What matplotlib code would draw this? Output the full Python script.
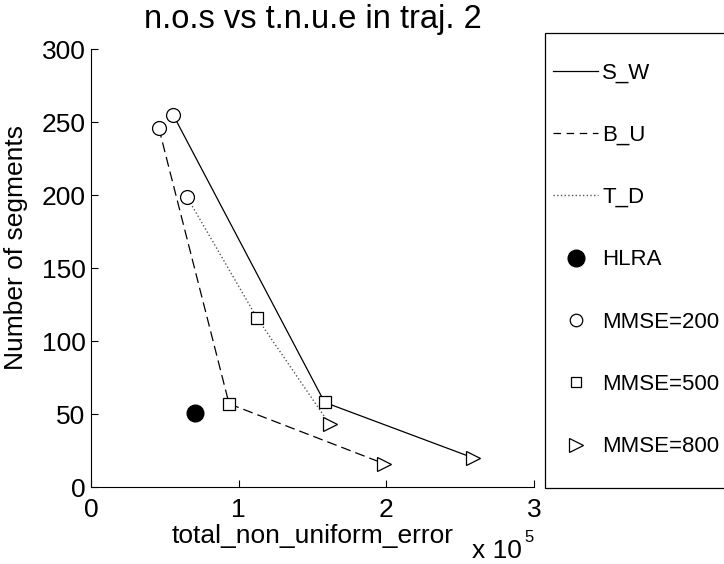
import matplotlib
matplotlib.use('Agg')
from matplotlib import pyplot as plt
from matplotlib.lines import Line2D
from matplotlib.patches import Rectangle

plt.rcParams['font.family'] = ['Liberation Sans', 'DejaVu Sans']

# data (x in raw units, y = number of segments)
sw_x = [0.556e5, 1.582e5, 2.587e5]
sw_y = [255, 58, 20]
bu_x = [0.459e5, 0.935e5, 1.984e5]
bu_y = [246, 57, 16]
td_x = [0.648e5, 1.123e5, 1.616e5]
td_y = [199, 116, 43]
hlra_x = [0.705e5]
hlra_y = [51]

scale = 1e5

fig = plt.figure(figsize=(7.24, 5.64), dpi=100)
ax = fig.add_axes([0.1257, 0.1365, 0.6119, 0.7765])

ax.plot([v / scale for v in sw_x], sw_y, '-', color='black', lw=0.9)
ax.plot([v / scale for v in bu_x], bu_y, '--', color='black', lw=0.9, dashes=(8, 4))
ax.plot([v / scale for v in td_x], td_y, ':', color='#555555', lw=1.0)

# markers for each MMSE level (first, second, third point of each series)
mk = dict(color='black', mfc='white', mew=0.9, ls='none')
for xs, ys in [(sw_x, sw_y), (bu_x, bu_y), (td_x, td_y)]:
    ax.plot(xs[0] / scale, ys[0], marker='o', ms=10, **mk)
    ax.plot(xs[1] / scale, ys[1], marker='s', ms=8.5, **mk)
    ax.plot(xs[2] / scale, ys[2], marker='>', ms=10.5, **mk)
ax.plot([v / scale for v in hlra_x], hlra_y, 'o', color='black', ms=12)

ax.set_xlim(0, 3)
ax.set_ylim(0, 300)
ax.set_xticks([0, 1, 2, 3])
ax.set_yticks(range(0, 301, 50))
ax.tick_params(direction='in', labelsize=19, length=5, width=0.8)
ax.tick_params(axis='x', pad=8)
ax.tick_params(axis='y', pad=4)
ax.spines['top'].set_visible(False)
ax.spines['right'].set_visible(False)

ax.set_title('n.o.s vs t.n.u.e in traj. 2', fontsize=23.5, pad=15)
ax.set_xlabel('total_non_uniform_error', fontsize=19, labelpad=1)
ax.set_ylabel('Number of segments', fontsize=19)
ax.yaxis.set_label_coords(-0.142, 0.548)
fig.text(0.652, 0.0106, 'x 10', fontsize=19, va='baseline')
fig.text(0.724, 0.039, '5', fontsize=12, va='baseline')

handles = [
    Line2D([], [], color='black', ls='-', lw=0.9),
    Line2D([], [], color='black', ls='--', lw=0.9, dashes=(6, 4.5)),
    Line2D([], [], color='#555555', ls=':', lw=1.0),
    Line2D([], [], color='black', marker='o', ls='none', ms=12),
    Line2D([], [], color='black', marker='o', mfc='white', mew=0.9, ls='none', ms=9),
    Line2D([], [], color='black', marker='s', mfc='white', mew=0.9, ls='none', ms=7.5),
    Line2D([], [], color='black', marker='>', mfc='white', mew=0.9, ls='none', ms=10),
]
labels = ['S_W', 'B_U', 'T_D', 'HLRA', 'MMSE=200', 'MMSE=500', 'MMSE=800']
fig.legend(handles, labels, loc='upper left', bbox_to_anchor=(0.7638, 0.8892),
           fontsize=16, frameon=False, labelspacing=1.86, handlelength=2.03,
           handletextpad=0.18, borderpad=0, borderaxespad=0)
fig.patches.append(Rectangle((545 / 724, 1 - 488 / 564), 0.3, (488 - 33) / 564,
                             transform=fig.transFigure, fill=False,
                             edgecolor='black', lw=0.9))

fig.savefig('out.png', dpi=100)
